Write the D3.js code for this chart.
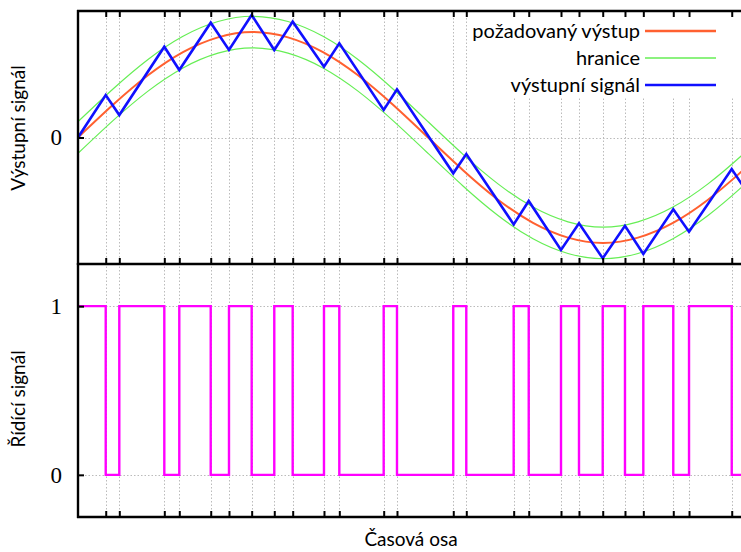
<!DOCTYPE html>
<html>
<head>
<meta charset="utf-8">
<script src="https://cdn.jsdelivr.net/npm/d3@7"></script>
<style>
  body { margin: 0; background: #fff; }
  text { font-family: Lato, "Open Sans", sans-serif; }
</style>
</head>
<body>
<div id="graph"></div>
<script>
// casy prepnuti (switching times), v jednotkach casove osy
const casy = [0.396, 0.59, 1.233, 1.447, 1.896, 2.157, 2.481, 2.804, 3.067, 3.514, 3.733,
  4.367, 4.557, 5.361, 5.547, 6.224, 6.439, 6.9, 7.157, 7.496, 7.814, 8.076, 8.504, 8.729, 9.339];

// ridici signal: hodnota od daneho casu dal
const ridiciT = [0, 0.396, 0.59, 1.233, 1.447, 1.896, 2.157, 2.481, 2.804, 3.067, 3.514, 3.733,
  4.367, 4.557, 5.361, 5.547, 6.224, 6.439, 6.9, 7.157, 7.496, 7.814, 8.076, 8.504, 8.729, 9.339, 10];
const ridiciV = [1, 0, 1, 0, 1, 0, 1, 0, 1, 0, 1, 0, 1, 0, 1, 0, 1, 0, 1, 0, 1, 0, 1, 0, 1, 0, 0];

// vystupni signal (zig-zag)
const vystupT = [0, 0.396, 0.59, 1.233, 1.447, 1.896, 2.157, 2.481, 2.804, 3.067, 3.514, 3.733,
  4.367, 4.557, 5.361, 5.547, 6.224, 6.439, 6.9, 7.157, 7.496, 7.814, 8.076, 8.504, 8.729, 9.339, 9.6];
const vystupV = [0, 0.403, 0.213, 0.861, 0.640, 1.089, 0.830, 1.162, 0.830, 1.099, 0.672, 0.894,
  0.261, 0.457, -0.340, -0.157, -0.824, -0.602, -1.067, -0.814, -1.146, -0.837, -1.105, -0.681, -0.894, -0.299, -0.56];

// pozadovany vystup a hranice
const pozT = [0, 0.5, 1, 1.5, 2, 2.5, 3, 3.5, 4, 4.5, 5, 5.5, 6, 6.5, 7, 7.5, 8, 8.5, 9, 9.5, 10];
const pozV = [0, 0.31, 0.59, 0.81, 0.95, 1.0, 0.95, 0.81, 0.59, 0.31, 0, -0.31, -0.59, -0.81, -0.95, -1.0, -0.95, -0.81, -0.59, -0.31, 0];
const horniV = [0.15, 0.46, 0.74, 0.96, 1.10, 1.15, 1.10, 0.96, 0.74, 0.46, 0.15, -0.16, -0.44, -0.66, -0.80, -0.85, -0.80, -0.66, -0.44, -0.16, 0.15];
const dolniV = [-0.15, 0.16, 0.44, 0.66, 0.80, 0.85, 0.80, 0.66, 0.44, 0.16, -0.15, -0.46, -0.74, -0.96, -1.10, -1.15, -1.10, -0.96, -0.74, -0.46, -0.15];

const legenda = ["požadovaný výstup", "hranice", "výstupní signál"];
const barvy = ["#ff6030", "#66ee55", "#1010ff"];

var svgWidth = 741, svgHeight = 552;
var left = 78, right = 778;
var top1 = 11, bot1 = 264, top2 = 264, bot2 = 517;

var svg = d3.select("#graph").append("svg")
  .attr("width", svgWidth).attr("height", svgHeight);

var x = d3.scaleLinear().domain([0, 10]).range([left, right]);
var y1 = d3.scaleLinear().domain([-1.2, 1.2]).range([bot1, top1]);
var y2 = d3.scaleLinear().domain([-0.25, 1.25]).range([bot2, top2]);

svg.append("clipPath").attr("id", "c1").append("rect")
  .attr("x", left).attr("y", top1).attr("width", right - left).attr("height", bot1 - top1);
svg.append("clipPath").attr("id", "c2").append("rect")
  .attr("x", left).attr("y", top2).attr("width", right - left).attr("height", bot2 - top2);

// mrizka
var grid = svg.append("g").attr("stroke", "#bbb").attr("stroke-width", 1).attr("stroke-dasharray", "1.5,2");
grid.selectAll(".v").data(casy).enter().append("line")
  .attr("x1", d => Math.round(x(d)) + 0.5).attr("x2", d => Math.round(x(d)) + 0.5)
  .attr("y1", top1).attr("y2", bot2);
grid.append("line").attr("x1", left).attr("x2", svgWidth)
  .attr("y1", Math.round(y1(0)) + 0.5).attr("y2", Math.round(y1(0)) + 0.5);
[0, 1].forEach(v => {
  grid.append("line").attr("x1", left).attr("x2", svgWidth)
    .attr("y1", Math.round(y2(v)) + 0.5).attr("y2", Math.round(y2(v)) + 0.5);
});

// legenda pozadi (opaque key)
svg.append("rect").attr("x", 470).attr("y", top1 + 2).attr("width", 280).attr("height", 84).attr("fill", "#fff");

// horni graf
var g1 = svg.append("g").attr("clip-path", "url(#c1)");
var hladka = d3.line().x((d, i) => x(pozT[i])).y(d => y1(d)).curve(d3.curveNatural);
g1.append("path").attr("d", hladka(horniV)).attr("fill", "none").attr("stroke", barvy[1]).attr("stroke-width", 1.2);
g1.append("path").attr("d", hladka(dolniV)).attr("fill", "none").attr("stroke", barvy[1]).attr("stroke-width", 1.2);
g1.append("path").attr("d", hladka(pozV)).attr("fill", "none").attr("stroke", barvy[0]).attr("stroke-width", 2);
var zig = d3.line().x((d, i) => x(vystupT[i])).y(d => y1(d));
g1.append("path").attr("d", zig(vystupV)).attr("fill", "none").attr("stroke", barvy[2])
  .attr("stroke-width", 2.6).attr("stroke-linejoin", "miter");

// dolni graf
var g2 = svg.append("g").attr("clip-path", "url(#c2)");
var schod = d3.line().x((d, i) => x(ridiciT[i])).y(d => y2(d)).curve(d3.curveStepAfter);
g2.append("path").attr("d", schod(ridiciV)).attr("fill", "none").attr("stroke", "#ff00ff").attr("stroke-width", 2.4);

// osy
var osaX1top = d3.axisTop(x).tickValues(casy).tickSize(-6).tickFormat("");
var osaX1bot = d3.axisBottom(x).tickValues(casy).tickSize(-6).tickFormat("");
var osaX2bot = d3.axisBottom(x).tickValues(casy).tickSize(-6).tickFormat("");
[[osaX1top, top1], [osaX1bot, bot1], [osaX2bot, bot2]].forEach(a => {
  var g = svg.append("g").attr("transform", `translate(0,${a[1]})`).call(a[0]);
  g.select(".domain").remove();
  g.selectAll("line").attr("stroke", "#000").attr("stroke-width", 2);
  g.append("line").attr("x1", left - 1).attr("x2", svgWidth).attr("stroke", "#000").attr("stroke-width", 2.4);
});

var osaY1 = d3.axisLeft(y1).tickValues([0]).tickSize(-6).tickPadding(16).tickFormat(d3.format("d"));
var osaY2 = d3.axisLeft(y2).tickValues([0, 1]).tickSize(-6).tickPadding(16).tickFormat(d3.format("d"));
[[osaY1, top1, bot1], [osaY2, top2, bot2]].forEach(a => {
  var g = svg.append("g").attr("transform", `translate(${left},0)`).call(a[0]);
  g.select(".domain").remove();
  g.selectAll("line").attr("stroke", "#000").attr("stroke-width", 2);
  g.selectAll("text").style("font-family", "'Liberation Serif', 'DejaVu Serif', serif")
    .style("font-size", "23px").attr("fill", "#000");
  g.append("line").attr("y1", a[1] - 1).attr("y2", a[2] + 1).attr("stroke", "#000").attr("stroke-width", 2.4);
});

// legenda
legenda.forEach((t, i) => {
  var yy = 31 + i * 27;
  svg.append("text").attr("x", 640).attr("y", yy).attr("dy", "0.35em").attr("text-anchor", "end")
    .style("font-size", "20px").text(t);
  svg.append("line").attr("x1", 645).attr("x2", 716).attr("y1", yy).attr("y2", yy)
    .attr("stroke", barvy[i]).attr("stroke-width", i == 1 ? 1.5 : 2.4);
});

// popisky os
svg.append("text").attr("transform", "translate(25,128) rotate(-90)").attr("text-anchor", "middle")
  .style("font-size", "19px").text("Výstupní signál");
svg.append("text").attr("transform", "translate(25,399) rotate(-90)").attr("text-anchor", "middle")
  .style("font-size", "19px").text("Řídící signál");
svg.append("text").attr("x", 411).attr("y", 546).attr("text-anchor", "middle")
  .style("font-size", "19px").text("Časová osa");
</script>
</body>
</html>
